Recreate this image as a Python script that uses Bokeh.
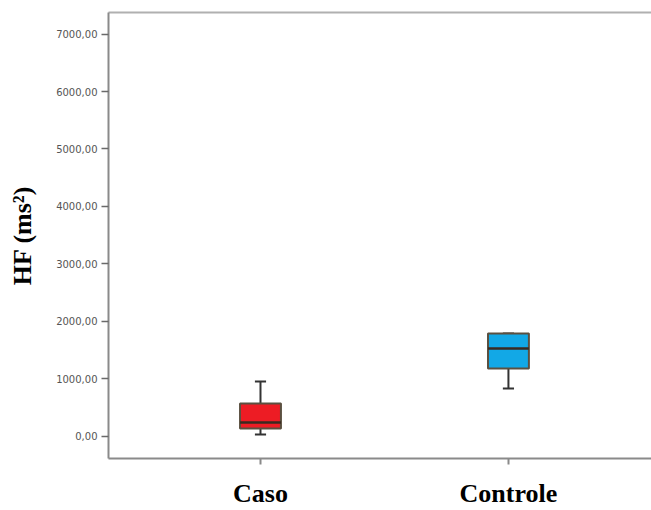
from bokeh.plotting import figure
from bokeh.models import (ColumnDataSource, FixedTicker, LinearAxis, Range1d)
from bokeh.embed import file_html
from bokeh.resources import INLINE

# ---- data ----
categories = ["Caso", "Controle"]
whisker_low = [35, 835]
q1 = [139, 1183]
median = [243, 1530]
q3 = [574, 1791]
whisker_high = [957, 1791]
box_colors = ["#ED1C24", "#12A8E6"]
y_ticks = [0, 1000, 2000, 3000, 4000, 5000, 6000, 7000]
y_tick_labels = ["0,00", "1000,00", "2000,00", "3000,00", "4000,00",
                 "5000,00", "6000,00", "7000,00"]

xs = [i + 1 for i in range(len(categories))]
box_w = 0.165
cap_w = 0.045

src = ColumnDataSource(dict(
    x=xs, q1=q1, q3=q3, med=median, lo=whisker_low, hi=whisker_high,
    color=box_colors,
    bx0=[x - box_w / 2 for x in xs], bx1=[x + box_w / 2 for x in xs],
    cx0=[x - cap_w / 2 for x in xs], cx1=[x + cap_w / 2 for x in xs],
))

p = figure(width=651, height=510, output_backend="svg", toolbar_location=None,
           x_range=Range1d(0.387, 2.577), y_range=Range1d(-383, 7374),
           min_border_left=108, min_border_right=0, min_border_top=12,
           min_border_bottom=52)
p.outline_line_color = None
p.grid.visible = False
p.background_fill_color = "white"
p.border_fill_color = "white"

# whiskers
p.segment(x0="x", x1="x", y0="q3", y1="hi", source=src, line_color="#333333", line_width=2)
p.segment(x0="x", x1="x", y0="lo", y1="q1", source=src, line_color="#333333", line_width=2)
p.segment(x0="cx0", x1="cx1", y0="hi", y1="hi", source=src, line_color="#333333", line_width=2)
p.segment(x0="cx0", x1="cx1", y0="lo", y1="lo", source=src, line_color="#333333", line_width=2)
# boxes
p.vbar(x="x", width=box_w, top="q3", bottom="q1", source=src,
       fill_color="color", line_color="#5b5040", line_width=2)
# median
p.segment(x0="bx0", x1="bx1", y0="med", y1="med", source=src, line_color="#3a2a20", line_width=2.5)

# axes
xa = p.xaxis[0]
xa.ticker = FixedTicker(ticks=xs)
xa.major_label_overrides = {x: c for x, c in zip(xs, categories)}
xa.minor_tick_line_color = None
xa.major_tick_out = 6
xa.major_tick_in = 0
xa.axis_line_color = "#8a8a8a"
xa.axis_line_width = 2
xa.major_tick_line_color = "#8a8a8a"
xa.major_tick_line_width = 2
xa.major_label_text_font = "Liberation Serif"
xa.major_label_text_font_style = "bold"
xa.major_label_text_font_size = "26px"
xa.major_label_text_color = "black"
xa.major_label_standoff = 14

ya = p.yaxis[0]
ya.ticker = FixedTicker(ticks=y_ticks)
ya.major_label_overrides = {t: l for t, l in zip(y_ticks, y_tick_labels)}
ya.minor_tick_line_color = None
ya.major_tick_out = 7
ya.major_tick_in = 0
ya.axis_line_color = "#8a8a8a"
ya.axis_line_width = 2
ya.major_tick_line_color = "#6a6a6a"
ya.major_tick_line_width = 1.5
ya.major_label_text_font = "DejaVu Sans"
ya.major_label_text_font_size = "10px"
ya.major_label_text_color = "#555555"
ya.major_label_standoff = 4
ya.axis_label = "HF (ms²)"
ya.axis_label_text_font = "Liberation Serif"
ya.axis_label_text_font_style = "bold"
ya.axis_label_text_font_size = "26px"
ya.axis_label_text_color = "black"
ya.axis_label_standoff = 16

top = LinearAxis(ticker=FixedTicker(ticks=[]), major_label_text_font_size="0px",
                 axis_line_color="#b0b0b0", axis_line_width=2,
                 major_tick_line_color=None, minor_tick_line_color=None)
p.add_layout(top, "above")

open("out.html", "w").write(file_html(p, INLINE))
